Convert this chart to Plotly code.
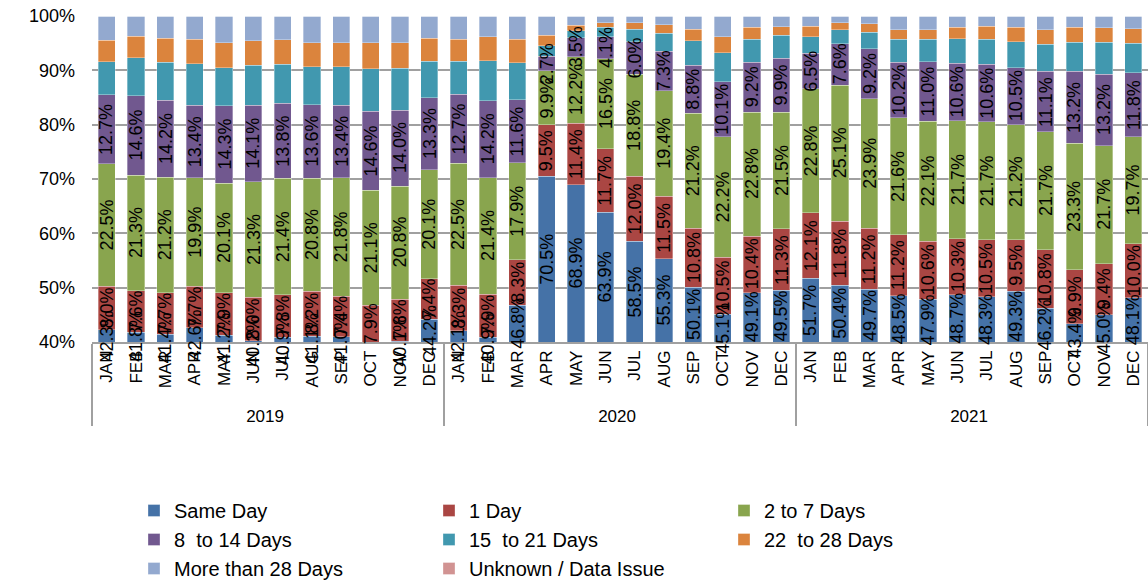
import plotly.graph_objects as go

years = ["2019", "2020", "2021"]
months = ["JAN", "FEB", "MAR", "APR", "MAY", "JUN", "JUL", "AUG", "SEP", "OCT", "NOV", "DEC"]

series_names = ["Same Day", "1 Day", "2 to 7 Days", "8  to 14 Days",
                "15  to 21 Days", "22  to 28 Days", "More than 28 Days",
                "Unknown / Data Issue"]

same_day = [42.3, 41.8, 41.4, 42.6, 41.2, 40.2, 40.9, 41.1, 41.0, 38.9, 40.1, 44.2,
            42.1, 40.9, 46.8, 70.5, 68.9, 63.9, 58.5, 55.3, 50.1, 45.1, 49.1, 49.5,
            51.7, 50.4, 49.7, 48.5, 47.9, 48.7, 48.3, 49.3, 46.2, 43.4, 45.0, 48.1]
one_day = [8.0, 7.6, 7.7, 7.7, 7.9, 8.0, 7.8, 8.2, 7.4, 7.9, 7.8, 7.4,
           8.3, 7.9, 8.3, 9.5, 11.4, 11.7, 12.0, 11.5, 10.8, 10.5, 10.4, 11.3,
           12.1, 11.8, 11.2, 11.2, 10.6, 10.3, 10.5, 9.5, 10.8, 9.9, 9.4, 10.0]
d2_7 = [22.5, 21.3, 21.2, 19.9, 20.1, 21.3, 21.4, 20.8, 21.8, 21.1, 20.8, 20.1,
        22.5, 21.4, 17.9, 9.9, 12.2, 16.5, 18.8, 19.4, 21.2, 22.2, 22.8, 21.5,
        22.8, 25.1, 23.9, 21.6, 22.1, 21.7, 21.7, 21.2, 21.7, 23.3, 21.7, 19.7]
d8_14 = [12.7, 14.6, 14.2, 13.4, 14.3, 14.1, 13.8, 13.6, 13.4, 14.6, 14.0, 13.3,
         12.7, 14.2, 11.6, 2.7, 3.5, 4.1, 6.0, 7.3, 8.8, 10.1, 9.2, 9.9,
         6.5, 7.6, 9.2, 10.2, 11.0, 10.6, 10.6, 10.5, 11.1, 13.2, 13.2, 11.8]
d15_21 = [6.1, 7.0, 7.0, 7.6, 7.0, 7.3, 7.2, 7.0, 7.1, 7.8, 7.7, 6.7,
          6.1, 7.4, 6.8, 1.9, 1.3, 1.7, 2.3, 3.3, 4.5, 5.3, 4.2, 4.3,
          3.1, 2.6, 3.0, 4.2, 4.1, 4.5, 4.6, 4.8, 5.0, 5.4, 5.9, 5.4]
d22_28 = [3.9, 4.0, 4.4, 4.5, 4.6, 4.5, 4.5, 4.4, 4.4, 4.8, 4.7, 4.2,
          4.0, 4.4, 4.3, 2.0, 1.0, 0.9, 1.2, 1.6, 2.2, 3.0, 2.2, 1.5,
          1.9, 1.3, 1.6, 1.8, 1.8, 2.1, 2.4, 2.6, 2.7, 2.7, 2.6, 2.7]
over_28 = [4.5, 3.7, 4.1, 4.3, 4.9, 4.6, 4.4, 4.9, 4.9, 4.9, 4.9, 4.1,
           4.3, 3.8, 4.3, 3.5, 1.7, 1.2, 1.2, 1.6, 2.4, 3.8, 2.1, 2.0,
           1.9, 1.2, 1.4, 2.5, 2.5, 2.1, 1.9, 2.1, 2.5, 2.1, 2.2, 2.3]
unknown = [0.0] * 36

colors = ["#4572A7", "#AA4643", "#89A54E", "#71588F",
          "#4198AF", "#DB843D", "#93A9CF", "#D19392"]

all_series = [same_day, one_day, d2_7, d8_14, d15_21, d22_28, over_28, unknown]
labelled = 4  # first four series carry data labels

x_outer = [y for y in years for m in months]
x_inner = [m for y in years for m in months]

FONT = "Liberation Sans"
Y_MIN, Y_MAX = 40, 100

FIG_W, FIG_H = 1148, 582

fig = go.Figure()
for name, vals, col in zip(series_names, all_series, colors):
    fig.add_trace(go.Bar(
        x=[x_outer, x_inner], y=vals, name=name,
        marker=dict(color=col, line=dict(color="rgba(255,255,255,0.55)", width=0.6)),
        hoverinfo="y+name",
    ))

annotations = []
n = len(x_inner)
for s in range(labelled):
    for i in range(n):
        lo = sum(all_series[k][i] for k in range(s))
        hi = lo + all_series[s][i]
        if hi <= Y_MIN:
            continue
        vis_lo = max(lo, Y_MIN)
        annotations.append(dict(
            x=i, y=(vis_lo + hi) / 2, xref="x2", yref="y",
            text=f"{all_series[s][i]:.1f}%", showarrow=False, textangle=-90,
            font=dict(family=FONT, size=18, color="#000000"),
        ))

fig.update_layout(
    width=FIG_W, height=FIG_H,
    margin=dict(l=92, r=0, t=16, b=240, autoexpand=False),
    barmode="stack", bargap=0.42,
    plot_bgcolor="white", paper_bgcolor="white",
    font=dict(family=FONT, color="#000000"),
    annotations=annotations,
    xaxis=dict(
        type="multicategory", showline=True, linecolor="#A0A0A0", linewidth=1.5,
        showdividers=True, dividercolor="#A0A0A0", dividerwidth=1.5,
        ticks="", tickangle=-90, tickfont=dict(family=FONT, size=17, color="#000000"),
        showgrid=False,
    ),
    xaxis2=dict(overlaying="x", anchor="y", range=[-0.5, n - 0.5], visible=False),
    yaxis=dict(
        range=[Y_MIN, Y_MAX], dtick=10, ticksuffix="%", showgrid=True,
        gridcolor="#A0A0A0", gridwidth=1.5, zeroline=False, showline=False,
        tickfont=dict(family=FONT, size=18, color="#000000"), ticks="",
        ticklabelstandoff=16, ticklabeloverflow="allow",
    ),
    legend=dict(
        orientation="h", xref="container", yref="container",
        x=134 / FIG_W, y=1 - 491 / FIG_H, xanchor="left", yanchor="top",
        entrywidth=250, entrywidthmode="pixels", traceorder="normal",
        font=dict(family=FONT, size=20, color="#000000"),
    ),
)

# remove the browser's default 8px body margin so the figure fills the window
fig.write_html("out.html", config={"displayModeBar": False},
               post_script="document.body.style.margin='0px';")
